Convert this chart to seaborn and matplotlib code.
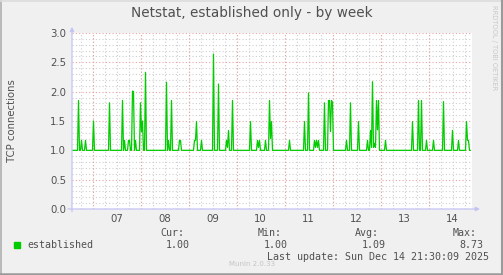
import matplotlib
matplotlib.use("Agg")
import matplotlib.pyplot as plt
import seaborn as sns
import pandas as pd
from matplotlib.ticker import MultipleLocator
from matplotlib.patches import Rectangle
from matplotlib.lines import Line2D

# ---- data (hours since Mon Dec 07 00:00, value = TCP connections) ----
hours = [-10.0,
         -7.5, -7.0, -6.5, -6.0, -5.5, -5.0, -4.0, -3.5, -3.0,
         0.0, 0.5, 1.0,
         8.0, 8.5, 9.0,
         14.5, 15.0, 15.5, 16.0, 16.5, 17.5, 18.0, 18.5, 19.0,
         19.5, 20.0, 20.5, 21.0, 21.5, 22.0,
         23.5, 24.0, 24.5, 25.0, 25.5, 26.0, 26.5, 27.0,
         36.5, 37.0, 37.5, 38.0, 38.5, 39.0, 39.5, 40.0,
         43.0, 43.5, 44.0, 44.5,
         50.5, 51.0, 51.5, 52.0, 52.5,
         54.0, 54.5, 55.0,
         60.0, 60.5, 61.0,
         62.5, 63.0, 63.5,
         66.5, 67.0, 67.5, 68.0, 68.5,
         69.5, 70.0, 70.5,
         78.5, 79.0, 79.5,
         82.0, 82.5, 83.0, 83.5, 84.0,
         86.0, 86.5, 87.0,
         88.0, 88.5, 89.0, 89.5, 90.0,
         98.0, 98.5, 99.0,
         105.5, 106.0, 106.5,
         107.5, 108.0, 108.5,
         110.5, 111.0, 111.5, 112.0, 112.5, 113.0, 113.5,
         115.5, 116.0, 116.5,
         117.5, 118.0, 118.5, 119.0, 119.5, 120.0, 120.5,
         126.5, 127.0, 127.5,
         128.5, 129.0, 129.5,
         132.5, 133.0, 133.5,
         137.0, 137.5, 138.0, 138.5, 139.0, 139.5, 140.0, 140.5, 141.0,
         141.5, 142.0, 142.5, 143.0, 143.5,
         146.0, 146.5, 147.0,
         159.5, 160.0, 160.5,
         162.5, 163.0, 163.5, 164.0, 164.5, 165.0,
         166.5, 167.0, 167.5,
         170.0, 170.5, 171.0,
         175.0, 175.5, 176.0,
         179.5, 180.0, 180.5,
         182.5, 183.0, 183.5,
         186.5, 187.0, 187.5, 188.0, 188.5, 189.0]
connections = [1.0,
               1.0, 1.85, 1.0, 1.0, 1.17, 1.0, 1.0, 1.17, 1.0,
               1.0, 1.5, 1.0,
               1.0, 1.81, 1.0,
               1.0, 1.85, 1.0, 1.17, 1.0, 1.0, 1.17, 1.17, 1.0,
               1.0, 2.01, 2.0, 1.0, 1.17, 1.0,
               1.0, 1.81, 1.32, 1.5, 1.0, 1.0, 2.33, 1.0,
               1.0, 2.16, 1.0, 1.17, 1.0, 1.0, 1.85, 1.0,
               1.0, 1.17, 1.17, 1.0,
               1.0, 1.17, 1.17, 1.49, 1.0,
               1.0, 1.17, 1.0,
               1.0, 2.64, 1.0,
               1.0, 2.13, 1.0,
               1.0, 1.17, 1.05, 1.34, 1.0,
               1.0, 1.85, 1.0,
               1.0, 1.49, 1.0,
               1.0, 1.17, 1.05, 1.17, 1.0,
               1.0, 1.17, 1.0,
               1.0, 1.85, 1.2, 1.49, 1.0,
               1.0, 1.17, 1.0,
               1.0, 1.49, 1.0,
               1.0, 1.98, 1.0,
               1.0, 1.17, 1.05, 1.17, 1.05, 1.17, 1.0,
               1.0, 1.81, 1.0,
               1.0, 1.85, 1.85, 1.32, 1.85, 1.81, 1.0,
               1.0, 1.17, 1.0,
               1.0, 1.81, 1.0,
               1.0, 1.49, 1.0,
               1.0, 1.17, 1.0, 1.0, 1.34, 1.05, 2.17, 1.05, 1.12,
               1.05, 1.85, 1.35, 1.85, 1.0,
               1.0, 1.17, 1.0,
               1.0, 1.49, 1.0,
               1.0, 1.85, 1.0, 1.0, 1.85, 1.0,
               1.0, 1.17, 1.0,
               1.0, 1.17, 1.0,
               1.0, 1.83, 1.0,
               1.0, 1.34, 1.0,
               1.0, 1.17, 1.0,
               1.0, 1.49, 1.17, 1.17, 1.0, 1.0]

day_labels = ["07", "08", "09", "10", "11", "12", "13", "14"]
day_noon_hours = [12, 36, 60, 84, 108, 132, 156, 180]
day_start_hours = [0, 24, 48, 72, 96, 120, 144, 168]
y_ticks = [0.0, 0.5, 1.0, 1.5, 2.0, 2.5, 3.0]

legend_name = "established"
stat_headers = ["Cur:", "Min:", "Avg:", "Max:"]
stat_values = ["1.00", "1.00", "1.09", "8.73"]

# ---- styling ----
sns.set_style("white")
plt.rcParams["font.family"] = ["DejaVu Sans"]

BG = "#f0f0f0"
TXT = "#505050"
GREEN = "#00cc00"
MINOR = "#cfcfcf"
MAJOR = "#eba3a3"
AXISC = "#c4c4f4"

W, H = 503, 275
fig = plt.figure(figsize=(W / 100, H / 100), dpi=100, facecolor=BG)
ax = fig.add_axes([72 / W, 66 / H, 400 / W, 176 / H])
ax.set_facecolor("white")

df = pd.DataFrame({"hour": hours, "conn": connections})

# grid
ax.set_xlim(-10.25, 189.75)
ax.set_ylim(0, 3.0)
ax.xaxis.set_minor_locator(MultipleLocator(6))
ax.yaxis.set_minor_locator(MultipleLocator(0.1))
ax.xaxis.remove_overlapping_locs = False
ax.grid(which="minor", color=MINOR, linestyle=(0, (1, 2)), linewidth=0.8)
ax.xaxis.grid(False, which="major")
ax.yaxis.grid(True, which="major", color=MAJOR, linestyle=(0, (1, 2)), linewidth=0.8)
for d in day_start_hours:
    ax.axvline(d, color=MAJOR, linestyle=(0, (1, 2)), linewidth=0.8, zorder=1)
ax.set_axisbelow(True)

sns.lineplot(data=df, x="hour", y="conn", color=GREEN, linewidth=0.9,
             estimator=None, sort=False, ax=ax, zorder=3)

ax.set_xticks(day_noon_hours)
ax.set_xticklabels(day_labels)
ax.set_yticks(y_ticks)
ax.set_yticklabels([f"{v:.1f}" for v in y_ticks])
ax.tick_params(axis="both", which="both", length=0, colors=TXT, labelsize=7.3)
ax.tick_params(axis="x", pad=3.5)
ax.tick_params(axis="y", pad=4.3)
ax.set_xlabel("")
ax.set_ylabel("TCP connections", color=TXT, fontsize=7.3)
ax.yaxis.set_label_coords(-55 / 400, 0.5)

for s in ax.spines.values():
    s.set_visible(False)

# axis lines with arrows
ax.annotate("", xy=(0, 1.035), xytext=(0, -0.015), xycoords="axes fraction",
            arrowprops=dict(arrowstyle="-|>", color=AXISC, lw=0.9,
                            mutation_scale=6, shrinkA=0, shrinkB=0))
ax.annotate("", xy=(1.02, 0), xytext=(-0.01, 0), xycoords="axes fraction",
            arrowprops=dict(arrowstyle="-|>", color=AXISC, lw=0.9,
                            mutation_scale=6, shrinkA=0, shrinkB=0))

# title and side text
fig.text(251.5 / W, 1 - 13.5 / H, "Netstat, established only - by week",
         ha="center", va="center", color=TXT, fontsize=9.8)
fig.text(494 / W, 1 - 5 / H, "RRDTOOL / TOBI OETIKER", rotation=270,
         ha="center", va="top", color="#c8c8c8", fontsize=4.8)

# legend
mono = "DejaVu Sans Mono"
fig.patches.append(Rectangle((14 / W, 1 - 248 / H), 6 / W, 6 / H,
                             transform=fig.transFigure, color=GREEN))
fig.text(27 / W, 1 - 245.5 / H, legend_name, ha="left", va="center",
         color=TXT, fontsize=7.2, family=mono)
hdr_x = [160.5, 257.5, 355, 452.5]
val_x = [166, 263.5, 361.5, 459.5]
for hx, vx, h_, v_ in zip(hdr_x, val_x, stat_headers, stat_values):
    fig.text(hx / W, 1 - 233.5 / H, h_, ha="left", va="center",
             color=TXT, fontsize=7.2, family=mono)
    fig.text(vx / W, 1 - 245.5 / H, v_, ha="left", va="center",
             color=TXT, fontsize=7.2, family=mono)
fig.text(267 / W, 1 - 257.5 / H, "Last update: Sun Dec 14 21:30:09 2025",
         ha="left", va="center", color=TXT, fontsize=7.2, family=mono)
fig.text(252 / W, 1 - 264.5 / H, "Munin 2.0.33", ha="center", va="center",
         color="#c4c4c4", fontsize=5)

# frame
fig.add_artist(Line2D([0.5 / W, 0.5 / W], [0, 1], color="#b0b0b0", lw=1.2))
fig.add_artist(Line2D([0, 1], [1 - 0.5 / H, 1 - 0.5 / H], color="#dcdcdc", lw=1.2))
fig.add_artist(Line2D([1 - 1 / W, 1 - 1 / W], [0, 1], color="#9a9a9a", lw=1.5))
fig.add_artist(Line2D([0, 1], [1.2 / H, 1.2 / H], color="#9a9a9a", lw=1.8))

fig.savefig("out.png", dpi=100, facecolor=BG)
